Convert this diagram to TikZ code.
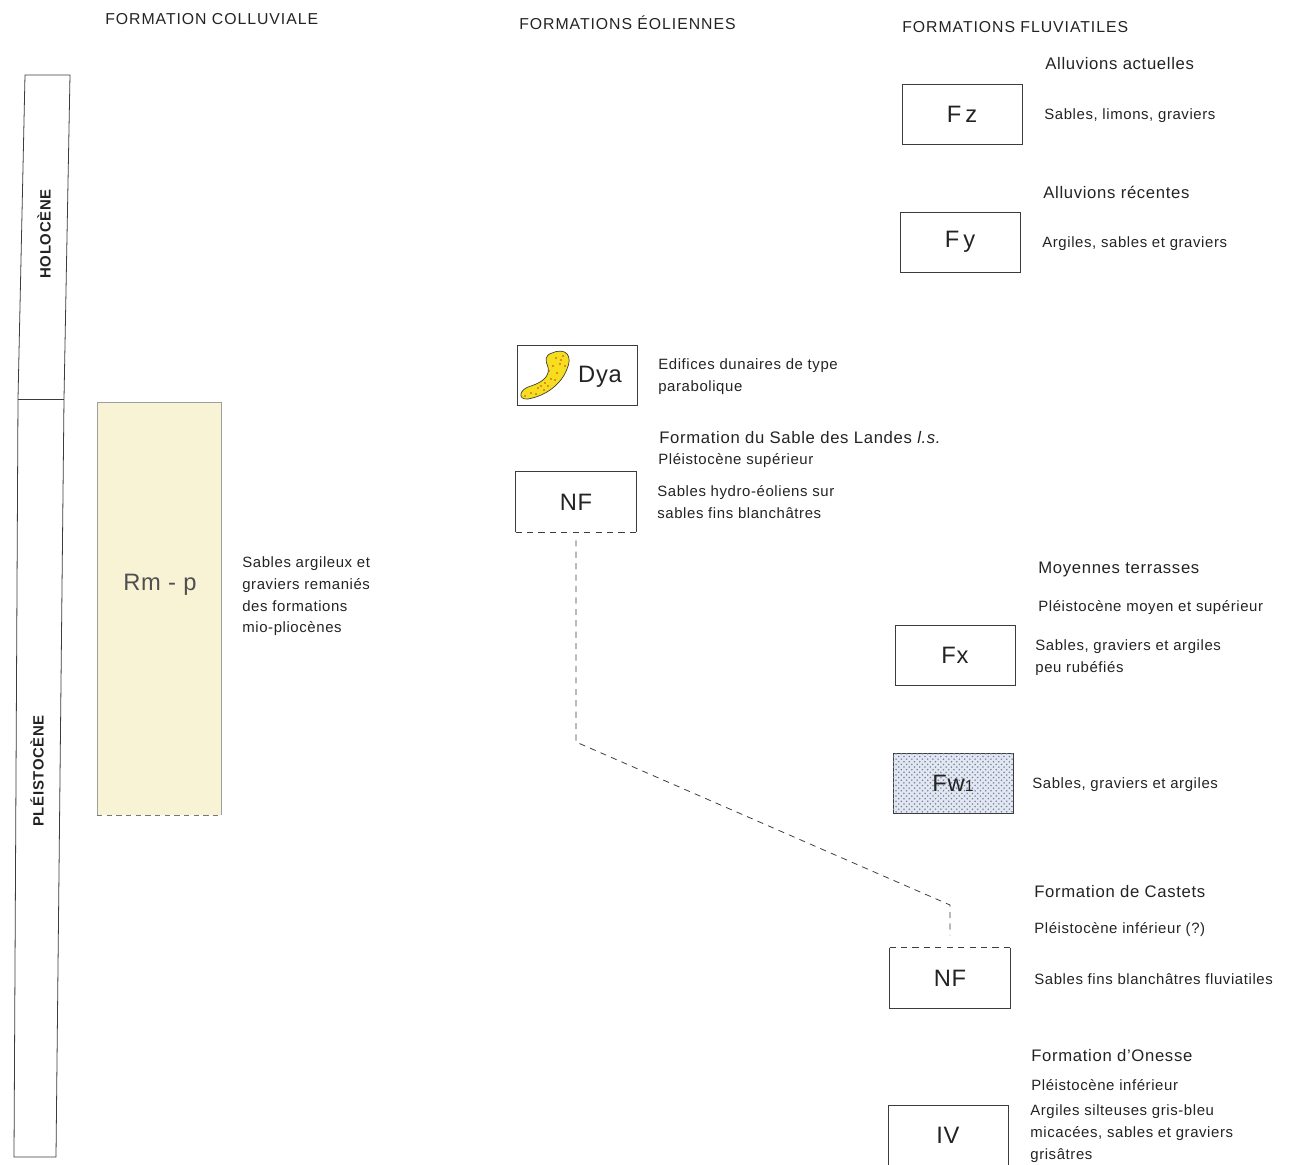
\documentclass[tikz,border=0pt]{standalone}
\usepackage{fontspec}
\setmainfont{Liberation Sans}[LetterSpace=4]
\newfontfamily\boxfont{Liberation Sans}[LetterSpace=3]
\usetikzlibrary{patterns}

\definecolor{inkgray}{RGB}{35,35,35}
\definecolor{linegray}{RGB}{60,60,60}
\definecolor{rmyellow}{RGB}{248,243,212}
\definecolor{duneyellow}{RGB}{245,222,30}
\definecolor{dunedot}{RGB}{225,45,40}
\definecolor{fwblue}{RGB}{226,231,240}
\definecolor{fwdot}{RGB}{115,130,170}

\begin{document}
\begin{tikzpicture}[x=0.02cm,y=-0.02cm,
  unit/.style={draw=linegray,line width=0.45pt,minimum width=2.4cm,minimum height=1.2cm,inner sep=0pt,
    font=\boxfont\fontsize{13.5}{13.5}\selectfont,text=inkgray},
  unitopen/.style={unit,draw=none},
  note/.style={anchor=base west,inner sep=0pt,yshift=-1.1pt,font=\fontsize{8.5}{12.5}\selectfont,text=inkgray},
  notes/.style={note,anchor=north west,align=left},
  head/.style={note,font=\fontsize{9.5}{12.5}\selectfont},
  coltitle/.style={note,font=\addfontfeature{LetterSpace=6}\fontsize{9}{12}\selectfont},
  era/.style={rotate=90,inner sep=0pt,text=inkgray,font=\bfseries\fontsize{8.5}{10}\selectfont},
  link/.style={draw=linegray,line width=0.45pt,dash pattern=on 3.5pt off 3pt}]
\def\lw{0.45pt}
  \useasboundingbox (0,0) rectangle (1291,1165);

  % titres des colonnes
  \node[coltitle] (tcol) at (105,23) {FORMATION COLLUVIALE};
  \node[coltitle] (teol) at (519,28) {FORMATIONS ÉOLIENNES};
  \node[coltitle] (tflu) at (902,31) {FORMATIONS FLUVIATILES};

  % echelle
  \draw[linegray,line width=\lw] (25,75) -- (70,75) -- (64,399) -- (56,1157) -- (14,1157) -- (18,399) -- cycle;
  \draw[linegray,line width=\lw] (18,399) -- (64,399);
  \node[era] (holo)   at (44,234) {HOLOCÈNE};
  \node[era] (pleist) at (37,771) {PLÉISTOCÈNE};

  % formation colluviale
  \fill[rmyellow] (97,402) rectangle (221,815);
  \draw[linegray!50,line width=0.4pt] (97,815) -- (97,402) -- (221,402) -- (221,815);
  \draw[linegray!70,line width=0.4pt,dash pattern=on 3pt off 2.5pt] (97,815) -- (221,815);
  \node[unitopen,text=inkgray!80] (rmp) at (160,585) {Rm - p};
  \node[notes] (rmptxt) at (242,554) {Sables argileux et\\graviers remaniés\\des formations\\mio-pliocènes};

  % formations eoliennes
  \node[unit] (dya) at (577,375) {};
  \filldraw[fill=duneyellow,draw=linegray,line width=0.4pt]
    (552,353) .. controls (566,347) and (573,356) .. (567,369)
    .. controls (561,385) and (545,396) .. (528,399)
    .. controls (517,400) and (519,389) .. (531,386)
    .. controls (543,382) and (550,376) .. (548,367)
    .. controls (545,360) and (545,355) .. (552,353) -- cycle;
  \foreach \p in {(556,358),(563,356),(560,364),(553,366),(565,366),(557,373),(551,379),
                  (545,383),(538,388),(531,393),(544,390),(536,394),(525,396),(549,371),
                  (561,360),(541,386),(555,380),(548,386)}
    \fill[dunedot] \p circle (0.55pt);
  \node[unitopen] (dyalab) at (600,377) {Dya};
  \node[notes] (dyatxt) at (658,356) {Edifices dunaires de type\\parabolique};

  \node[head] (landes) at (659,442) {Formation du Sable des Landes \textit{l.s.}};
  \node[note] (landesage) at (658,463) {Pléistocène supérieur};
  \node[unitopen] (nfa) at (576,502) {NF};
  \draw[linegray,line width=\lw] (nfa.south west) -- (nfa.north west) -- (nfa.north east) -- (nfa.south east);
  \draw[link] (nfa.south west) -- (nfa.south east);
  \node[notes] (nfatxt) at (657,483) {Sables hydro-éoliens sur\\sables fins blanchâtres};

  % formations fluviatiles
  \node[head] (fzhead) at (1045,68) {Alluvions actuelles};
  \node[unit] (fz) at (962,114) {F\,z};
  \node[note] (fztxt) at (1044,118) {Sables, limons, graviers};

  \node[head] (fyhead) at (1043,197) {Alluvions récentes};
  \node[unit] (fy) at (960,242) {F\,y};
  \node[note] (fytxt) at (1042,246) {Argiles, sables et graviers};

  \node[head] (fxhead) at (1038,572) {Moyennes terrasses};
  \node[note] (fxage) at (1038,610) {Pléistocène moyen et supérieur};
  \node[unit] (fx) at (955,655) {Fx};
  \node[notes] (fxtxt) at (1035,637) {Sables, graviers et argiles\\peu rubéfiés};

  \node[unit,fill=fwblue,postaction={pattern=crosshatch dots,pattern color=fwdot}] (fwa) at (953,783) {Fw{\fontsize{9}{9}\selectfont 1}};
  \node[note] (fwatxt) at (1032,787) {Sables, graviers et argiles};

  \node[head] (casthead) at (1034,896) {Formation de Castets};
  \node[note] (castage) at (1034,932) {Pléistocène inférieur (?)};
  \node[unitopen] (nfb) at (950,978) {NF};
  \draw[linegray,line width=\lw] (nfb.north west) -- (nfb.south west) -- (nfb.south east) -- (nfb.north east);
  \draw[link] (nfb.north west) -- (nfb.north east);
  \node[note] (nfbtxt) at (1034,983) {Sables fins blanchâtres fluviatiles};

  \node[head] (onhead) at (1031,1060) {Formation d'Onesse};
  \node[note] (onage) at (1031,1089) {Pléistocène inférieur};
  \node[unit] (iv) at (948,1135) {IV};
  \node[notes] (ivtxt) at (1030,1102) {Argiles silteuses gris-bleu\\micacées, sables et graviers\\grisâtres};

  % passage des sables
  \coordinate (kneea) at (576,742);
  \coordinate (kneeb) at (950,905);
  \draw[link,shorten <=4.5pt,shorten >=7pt] (nfa.south) -- (kneea) -- (kneeb) -- (nfb.north);
\end{tikzpicture}
\end{document}
